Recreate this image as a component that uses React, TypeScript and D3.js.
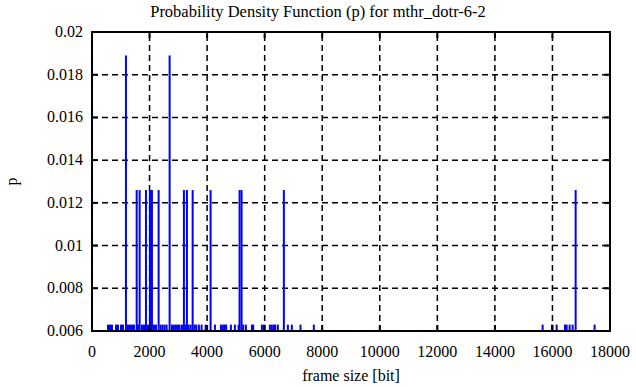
import * as d3 from 'd3';

// frame sizes [bit] and probability for each impulse
const frameSizes = [
  556, 625, 694, 833, 903, 1007, 1076,
  1180, 1250, 1319, 1389, 1458, 1552, 1597, 1655, 1736, 1806, 1875, 1944,
  2014, 2083, 2153, 2222, 2315, 2384, 2453, 2523, 2593,
  2697, 2778, 2847, 2917, 2986, 3044,
  3125, 3194, 3252, 3299, 3356, 3426, 3497, 3565, 3623,
  3715, 3808, 3947, 4121, 4271, 4479, 4549, 4618, 4664,
  4826, 4965, 5093, 5128, 5197, 5255, 5347, 5556, 5602,
  5903, 5972, 6180, 6250, 6319, 6366, 6458, 6667, 6806, 6944, 7245, 7708,
  15659, 15983, 16146, 16435, 16493, 16597, 16701, 16806, 17465,
];
const probabilities = [
  0.0063, 0.0063, 0.0063, 0.0063, 0.0063, 0.0063, 0.0063,
  0.0189, 0.0063, 0.0063, 0.0063, 0.0063, 0.0126, 0.0063, 0.0126, 0.0063, 0.0063, 0.0126, 0.0063,
  0.0126, 0.0126, 0.0063, 0.0063, 0.0126, 0.0063, 0.0063, 0.0063, 0.0063,
  0.0189, 0.0063, 0.0063, 0.0063, 0.0063, 0.0063,
  0.0063, 0.0126, 0.0063, 0.0126, 0.0063, 0.0063, 0.0126, 0.0063, 0.0063,
  0.0063, 0.0063, 0.0063, 0.0126, 0.0063, 0.0063, 0.0063, 0.0063, 0.0063,
  0.0063, 0.0063, 0.0063, 0.0126, 0.0126, 0.0063, 0.0063, 0.0063, 0.0063,
  0.0063, 0.0063, 0.0063, 0.0063, 0.0063, 0.0063, 0.0063, 0.0126, 0.0063, 0.0063, 0.0063, 0.0063,
  0.0063, 0.0063, 0.0063, 0.0063, 0.0063, 0.0063, 0.0063, 0.0126, 0.0063,
];
const xTicks = [0, 2000, 4000, 6000, 8000, 10000, 12000, 14000, 16000, 18000];
const yTicks = [0.006, 0.008, 0.01, 0.012, 0.014, 0.016, 0.018, 0.02];

const width = 636;
const height = 387;
const margins = { top: 32, right: 26, bottom: 56, left: 92 };
const font = '"Liberation Serif", "DejaVu Serif", serif';

const App = () => {
  const xScale = d3
    .scaleLinear()
    .domain([0, 18000])
    .range([margins.left, width - margins.right]);
  const yScale = d3
    .scaleLinear()
    .domain([0.006, 0.02])
    .range([height - margins.bottom, margins.top]);

  const x0 = margins.left;
  const x1 = width - margins.right;
  const y0 = height - margins.bottom;
  const y1 = margins.top;

  return (
    <svg
      width={width}
      height={height}
      viewBox={`0 0 ${width} ${height}`}
      style={{ position: 'absolute', left: 0, top: 0, background: '#fff' }}
      fontFamily={font}
    >
      <rect x={0} y={0} width={width} height={height} fill="#fff" />
      <text x={318} y={17} textAnchor="middle" fontSize={16.5}>
        Probability Density Function (p) for mthr_dotr-6-2
      </text>

      {/* grid */}
      {xTicks.slice(1, -1).map(t => (
        <line
          key={`gx${t}`}
          x1={xScale(t)}
          x2={xScale(t)}
          y1={y0}
          y2={y1}
          stroke="#000"
          strokeWidth={1.5}
          strokeDasharray="6,4"
        />
      ))}
      {yTicks.slice(1, -1).map(t => (
        <line
          key={`gy${t}`}
          x1={x0}
          x2={x1}
          y1={yScale(t)}
          y2={yScale(t)}
          stroke="#000"
          strokeWidth={1.5}
          strokeDasharray="6,4"
        />
      ))}

      {/* impulses */}
      {frameSizes.map((s, i) => (
        <line
          key={i}
          x1={xScale(s)}
          x2={xScale(s)}
          y1={y0}
          y2={yScale(probabilities[i])}
          stroke="#0000ff"
          strokeWidth={2}
        />
      ))}

      {/* ticks */}
      {xTicks.map(t => (
        <g key={`tx${t}`}>
          <line x1={xScale(t)} x2={xScale(t)} y1={y0} y2={y0 - 6} stroke="#000" strokeWidth={2} />
          <line x1={xScale(t)} x2={xScale(t)} y1={y1} y2={y1 + 6} stroke="#000" strokeWidth={2} />
          <text x={xScale(t)} y={357} textAnchor="middle" fontSize={16}>
            {t}
          </text>
        </g>
      ))}
      {yTicks.map(t => (
        <g key={`ty${t}`}>
          <line x1={x0} x2={x0 + 6} y1={yScale(t)} y2={yScale(t)} stroke="#000" strokeWidth={2} />
          <line x1={x1} x2={x1 - 6} y1={yScale(t)} y2={yScale(t)} stroke="#000" strokeWidth={2} />
          <text x={83} y={yScale(t) + 5} textAnchor="end" fontSize={16}>
            {d3.format('~g')(t)}
          </text>
        </g>
      ))}

      <rect
        x={x0}
        y={y1}
        width={x1 - x0}
        height={y0 - y1}
        fill="none"
        stroke="#000"
        strokeWidth={2}
      />

      <text x={351} y={381} textAnchor="middle" fontSize={16}>
        frame size [bit]
      </text>
      <text
        transform={`translate(17, ${(y0 + y1) / 2}) rotate(-90)`}
        textAnchor="middle"
        fontSize={16}
      >
        p
      </text>
    </svg>
  );
};

export default App;
